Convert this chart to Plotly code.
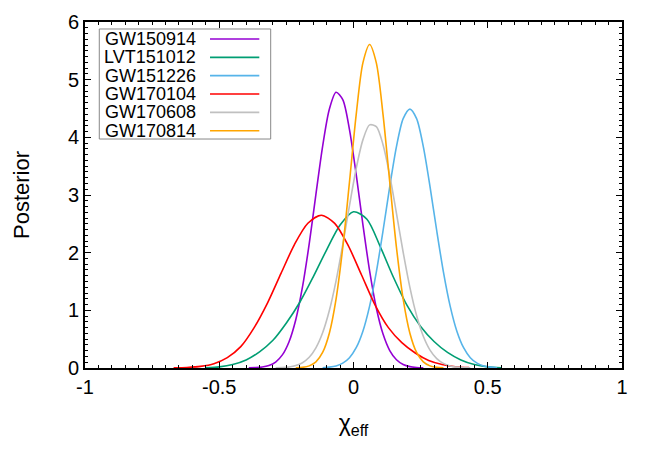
import plotly.graph_objects as go

# nombres y colores de cada evento
eventos = ["GW150914", "LVT151012", "GW151226", "GW170104", "GW170608", "GW170814"]
colores = ["#9400D3", "#009E73", "#56B4E9", "#FF0000", "#C0C0C0", "#FFA500"]

# curvas (chi_eff, posterior)
x_gw150914 = [-0.39, -0.365, -0.34, -0.315, -0.29, -0.265, -0.24, -0.215, -0.19, -0.165,
              -0.14, -0.115, -0.09, -0.065, -0.04, -0.015, 0.01, 0.035, 0.06, 0.085,
              0.11, 0.135, 0.16, 0.185, 0.21, 0.235, 0.26]
y_gw150914 = [0.002, 0.006, 0.016, 0.043, 0.103, 0.227, 0.456, 0.838, 1.405, 2.152,
              3.011, 3.845, 4.487, 4.781, 4.653, 4.135, 3.356, 2.488, 1.685, 1.041,
              0.588, 0.303, 0.143, 0.061, 0.024, 0.009, 0.003]

x_lvt151012 = [-0.55, -0.5, -0.45, -0.4, -0.35, -0.3, -0.25, -0.2, -0.15, -0.1, -0.05, 0.0,
               0.05, 0.1, 0.15, 0.2, 0.25, 0.3, 0.35, 0.4, 0.45, 0.5, 0.55]
y_lvt151012 = [0.005, 0.02, 0.06, 0.14, 0.28, 0.48, 0.78, 1.14, 1.58, 2.05, 2.48, 2.71,
               2.58, 2.10, 1.56, 1.08, 0.72, 0.46, 0.27, 0.14, 0.06, 0.02, 0.005]

x_gw151226 = [-0.115, -0.09, -0.065, -0.04, -0.015, 0.01, 0.035, 0.06, 0.085, 0.11, 0.135,
              0.16, 0.185, 0.21, 0.235, 0.26, 0.285, 0.31, 0.335, 0.36, 0.385, 0.41, 0.435,
              0.46, 0.485, 0.51, 0.535]
y_gw151226 = [0.005, 0.015, 0.036, 0.084, 0.179, 0.352, 0.639, 1.074, 1.663, 2.380, 3.145,
              3.838, 4.324, 4.49, 4.324, 3.838, 3.145, 2.380, 1.663, 1.074, 0.639, 0.352, 0.179,
              0.084, 0.036, 0.015, 0.005]

x_gw170104 = [-0.67, -0.62, -0.57, -0.52, -0.47, -0.42, -0.37, -0.32, -0.27, -0.22, -0.17,
              -0.12, -0.07, -0.02, 0.03, 0.08, 0.13, 0.18, 0.23, 0.28, 0.33, 0.38, 0.43]
y_gw170104 = [0.002, 0.009, 0.028, 0.075, 0.18, 0.37, 0.70, 1.13, 1.64, 2.14, 2.51,
              2.65, 2.508, 2.125, 1.613, 1.096, 0.70, 0.44, 0.26, 0.13, 0.06, 0.022, 0.007]

x_gw170608 = [-0.29, -0.265, -0.24, -0.215, -0.19, -0.165, -0.14, -0.115, -0.09, -0.065,
              -0.04, -0.015, 0.01, 0.035, 0.06, 0.085, 0.11, 0.135, 0.16, 0.185, 0.21,
              0.235, 0.26, 0.285, 0.31, 0.335, 0.36, 0.385, 0.41, 0.435]
y_gw170608 = [0.003, 0.007, 0.018, 0.043, 0.092, 0.186, 0.350, 0.611, 0.996, 1.512,
              2.138, 2.817, 3.459, 3.956, 4.216, 4.186, 3.873, 3.338, 2.681, 2.007, 1.399,
              0.909, 0.550, 0.310, 0.163, 0.080, 0.036, 0.015, 0.006, 0.002]

x_gw170814 = [-0.215, -0.19, -0.165, -0.14, -0.115, -0.09, -0.065, -0.04, -0.015, 0.01,
              0.035, 0.06, 0.085, 0.11, 0.135, 0.16, 0.185, 0.21, 0.235, 0.26, 0.285,
              0.31, 0.335]
y_gw170814 = [0.003, 0.011, 0.037, 0.107, 0.270, 0.604, 1.195, 2.089, 3.223, 4.394,
              5.292, 5.61, 5.292, 4.394, 3.223, 2.089, 1.195, 0.604, 0.270, 0.107, 0.037,
              0.011, 0.003]

curvas_x = [x_gw150914, x_lvt151012, x_gw151226, x_gw170104, x_gw170608, x_gw170814]
curvas_y = [y_gw150914, y_lvt151012, y_gw151226, y_gw170104, y_gw170608, y_gw170814]

x_ticks = [-1, -0.5, 0, 0.5, 1]
x_ticktext = ["-1", "-0.5", "0", "0.5", "1"]
y_ticks = [0, 1, 2, 3, 4, 5, 6]

FUENTE = "Liberation Sans, Arial, sans-serif"

fig = go.Figure()
for nombre, color, xs, ys in zip(eventos, colores, curvas_x, curvas_y):
    fig.add_trace(go.Scatter(
        x=xs, y=ys, mode="lines", name=nombre,
        line=dict(color=color, width=1.6, shape="spline", smoothing=0.8),
        showlegend=False,
    ))

# leyenda estilo gnuplot: texto a la izquierda, muestra de línea a la derecha
fig.add_shape(type="rect", xref="paper", yref="paper",
              x0=0.0266, x1=0.3458, y0=0.6618, y1=0.9798,
              line=dict(color="#888888", width=1), fillcolor="white", layer="above")
for i, (nombre, color) in enumerate(zip(eventos, colores)):
    yy = 0.9509 - i * 0.0530
    fig.add_annotation(text=nombre, xref="paper", yref="paper", x=0.2099, y=yy,
                       xanchor="right", yanchor="middle", showarrow=False,
                       font=dict(size=18, color="black", family=FUENTE))
    fig.add_shape(type="line", xref="paper", yref="paper",
                  x0=0.2328, x1=0.3246, y0=yy, y1=yy,
                  line=dict(color=color, width=1.6), layer="above")

ejes = dict(
    showline=True, linecolor="black", linewidth=2, mirror="ticks",
    ticks="inside", ticklen=6, tickwidth=1, tickcolor="black",
    showgrid=False, zeroline=False, automargin=False,
    tickfont=dict(size=20, color="black", family=FUENTE),
)
fig.update_xaxes(
    range=[-1, 1], tickvals=x_ticks, ticktext=x_ticktext,
    minor=dict(ticks="inside", dtick=0.05, ticklen=3, tickcolor="black", showgrid=False),
    title=dict(text="χ<sub>eff</sub>", font=dict(size=23, color="black", family=FUENTE), standoff=18),
    **ejes,
)
fig.update_yaxes(
    range=[0, 6], tickvals=y_ticks,
    minor=dict(ticks="inside", dtick=0.1, ticklen=3, tickcolor="black", showgrid=False),
    title=dict(text="Posterior", font=dict(size=22, color="black", family=FUENTE), standoff=32),
    **ejes,
)
fig.update_layout(
    width=664, height=465,
    paper_bgcolor="white", plot_bgcolor="white",
    margin=dict(l=85, r=42, t=22, b=97),
    font=dict(family=FUENTE, color="black"),
)
# quitar el margen por defecto del <body> para que la figura empiece en (0, 0)
fig.write_html("out.html", config={"displayModeBar": False},
               post_script="document.body.style.margin='0px';")
